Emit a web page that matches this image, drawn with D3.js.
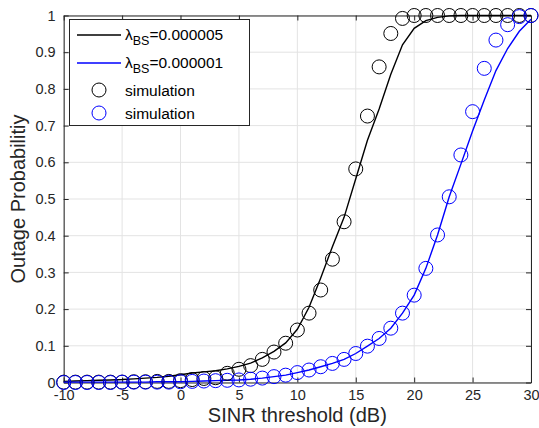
<!DOCTYPE html>
<html>
<head>
  <meta charset="UTF-8">
  <title>Outage Probability</title>
  <script src="https://cdn.jsdelivr.net/npm/d3@7"></script>
  <style>
    body { margin: 0; background: #fff; }
    svg { display: block; font-family: "Liberation Sans", Arial, sans-serif; }
    .tick text { fill: #262626; font-size: 14.5px; }
    .lab { fill: #262626; font-size: 20px; }
    .leg { fill: #000; font-size: 15.5px; }
  </style>
</head>
<body>
  <svg id="chart" width="539" height="428"></svg>
  <script>
    // SINR threshold (dB), -10..30 step 1
    const sinr = [-10,-9,-8,-7,-6,-5,-4,-3,-2,-1,0,1,2,3,4,5,6,7,8,9,10,
                  11,12,13,14,15,16,17,18,19,20,21,22,23,24,25,26,27,28,29,30];

    // analysis, lambda_BS = 0.000005
    const anaHigh = [0.003,0.004,0.005,0.006,0.007,0.008,0.010,0.012,0.014,0.017,0.021,
                     0.026,0.029,0.032,0.037,0.044,0.053,0.067,0.085,0.108,0.145,
                     0.205,0.285,0.370,0.450,0.555,0.660,0.745,0.840,0.920,0.965,
                     0.986,0.995,0.999,1,1,1,1,1,1,1];
    // analysis, lambda_BS = 0.000001
    const anaLow = [0.001,0.001,0.001,0.001,0.001,0.001,0.001,0.001,0.002,0.002,0.002,
                    0.003,0.004,0.005,0.006,0.007,0.009,0.012,0.016,0.020,0.027,
                    0.034,0.043,0.052,0.063,0.079,0.099,0.120,0.148,0.189,0.238,
                    0.311,0.402,0.506,0.595,0.685,0.770,0.850,0.910,0.957,0.990];
    // simulation, lambda_BS = 0.000005
    const simHigh = [0.001,0.001,0.001,0.001,0.001,0.001,0.002,0.002,0.003,0.003,0.005,
                     0.008,0.011,0.013,0.025,0.036,0.046,0.063,0.083,0.107,0.143,
                     0.189,0.252,0.336,0.438,0.582,0.726,0.860,0.951,0.992,1,
                     1,1,1,1,1,1,1,1,1,1];
    // simulation, lambda_BS = 0.000001
    const simLow = [0.000,0.000,0.000,0.000,0.000,0.001,0.001,0.001,0.001,0.001,0.002,
                    0.003,0.004,0.005,0.006,0.007,0.009,0.012,0.016,0.020,0.027,
                    0.034,0.043,0.052,0.063,0.079,0.099,0.120,0.148,0.189,0.238,
                    0.311,0.402,0.506,0.620,0.738,0.856,0.933,0.975,0.997,1.0];

    const xTicks = [-10,-5,0,5,10,15,20,25,30];
    const yTicks = [0,0.1,0.2,0.3,0.4,0.5,0.6,0.7,0.8,0.9,1];

    const x0 = 63.7, x1 = 531, y0 = 15.5, y1 = 382.5;
    const svg = d3.select('#chart');
    const x = d3.scaleLinear().domain([-10, 30]).range([x0, x1]);
    const y = d3.scaleLinear().domain([0, 1]).range([y1, y0]);

    // grid
    const grid = svg.append('g').attr('stroke', '#e3e3e3').attr('stroke-width', 1);
    xTicks.forEach(t => grid.append('line')
      .attr('x1', x(t)).attr('x2', x(t)).attr('y1', y0).attr('y2', y1));
    yTicks.forEach(t => grid.append('line')
      .attr('y1', y(t)).attr('y2', y(t)).attr('x1', x0).attr('x2', x1));

    // axes (ticks inward, box all round)
    const fmt = d => String(d);
    svg.append('g').attr('transform', `translate(0,${y1})`)
      .call(d3.axisBottom(x).tickValues(xTicks).tickSizeInner(-5).tickSizeOuter(0).tickPadding(7).tickFormat(fmt));
    svg.append('g').attr('transform', `translate(0,${y0})`)
      .call(d3.axisTop(x).tickValues(xTicks).tickSizeInner(-5).tickSizeOuter(0).tickFormat(''));
    svg.append('g').attr('transform', `translate(${x0},0)`)
      .call(d3.axisLeft(y).tickValues(yTicks).tickSizeInner(-5).tickSizeOuter(0).tickPadding(8).tickFormat(fmt));
    svg.append('g').attr('transform', `translate(${x1},0)`)
      .call(d3.axisRight(y).tickValues(yTicks).tickSizeInner(-5).tickSizeOuter(0).tickFormat(''));
    svg.selectAll('.domain, .tick line').attr('stroke', '#262626');

    // lines
    const line = vals => d3.line().x((d, i) => x(sinr[i])).y(d => y(d))(vals);
    svg.append('path').attr('d', line(anaHigh)).attr('fill', 'none')
      .attr('stroke', '#000').attr('stroke-width', 1.4);
    svg.append('path').attr('d', line(anaLow)).attr('fill', 'none')
      .attr('stroke', '#0000ff').attr('stroke-width', 1.4);

    // simulation markers
    const marks = (vals, color) => svg.append('g').selectAll('circle')
      .data(vals).join('circle')
        .attr('cx', (d, i) => x(sinr[i])).attr('cy', d => y(d)).attr('r', 7)
        .attr('fill', 'none').attr('stroke', color).attr('stroke-width', 1);
    marks(simHigh, '#000');
    marks(simLow, '#0000ff');

    // axis labels
    svg.append('text').attr('class', 'lab').attr('x', (x0 + x1) / 2).attr('y', 422)
      .attr('text-anchor', 'middle').text('SINR threshold (dB)');
    svg.append('text').attr('class', 'lab').attr('text-anchor', 'middle')
      .attr('transform', `translate(25,${(y0 + y1) / 2}) rotate(-90)`)
      .text('Outage Probabilitiy');

    // legend
    const leg = svg.append('g');
    leg.append('rect').attr('x', 69.5).attr('y', 19.5).attr('width', 180).attr('height', 106)
      .attr('fill', '#fff').attr('stroke', '#262626').attr('stroke-width', 1);
    const rows = [
      { y: 35, type: 'line', color: '#000', sub: 'BS', txt: '=0.000005' },
      { y: 63, type: 'line', color: '#0000ff', sub: 'BS', txt: '=0.000001' },
      { y: 90, type: 'dot', color: '#000', txt: 'simulation' },
      { y: 113, type: 'dot', color: '#0000ff', txt: 'simulation' }
    ];
    rows.forEach(r => {
      if (r.type === 'line') {
        leg.append('line').attr('x1', 77).attr('x2', 121).attr('y1', r.y).attr('y2', r.y)
          .attr('stroke', r.color).attr('stroke-width', 1.4);
        const t = leg.append('text').attr('class', 'leg').attr('x', 125).attr('y', r.y + 5);
        t.append('tspan').text('λ');
        t.append('tspan').attr('dy', 5).attr('font-size', 12.5).text(r.sub);
        t.append('tspan').attr('dy', -5).text(r.txt);
      } else {
        leg.append('circle').attr('cx', 99).attr('cy', r.y).attr('r', 7)
          .attr('fill', 'none').attr('stroke', r.color);
        leg.append('text').attr('class', 'leg').attr('x', 125).attr('y', r.y + 5.5).text(r.txt);
      }
    });
  </script>
</body>
</html>
